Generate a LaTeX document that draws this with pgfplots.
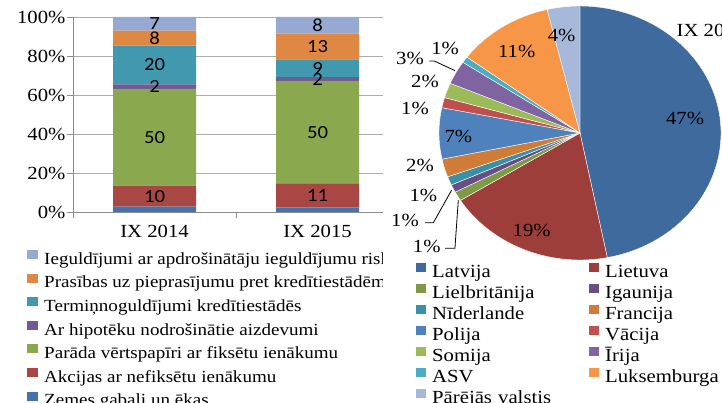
\documentclass[border=0pt]{standalone}
\usepackage{pgfplots}
\pgfplotsset{compat=1.18}
\usepackage{fontspec}
\setmainfont[FakeStretch=1.12]{Liberation Serif}
\newfontfamily\calib[FakeStretch=1.12]{Carlito}
\newcommand\fs{\fontsize{18.5}{20}\selectfont}
\newcommand\fsl{\fontsize{17}{20}\selectfont}

% bar colours
\definecolor{bZem}{HTML}{4472AC}
\definecolor{bAkc}{HTML}{A94745}
\definecolor{bPar}{HTML}{8AA84D}
\definecolor{bHip}{HTML}{6F5A96}
\definecolor{bTer}{HTML}{4199B0}
\definecolor{bPra}{HTML}{DF8843}
\definecolor{bIeg}{HTML}{95A9D3}
% pie colours
\definecolor{pLatv}{HTML}{3F6A9E}
\definecolor{pLiet}{HTML}{9E3E3B}
\definecolor{pLiel}{HTML}{7D9A47}
\definecolor{pIga}{HTML}{674F86}
\definecolor{pNid}{HTML}{3A90A6}
\definecolor{pFra}{HTML}{D07B36}
\definecolor{pPol}{HTML}{4F81BD}
\definecolor{pVac}{HTML}{C0504D}
\definecolor{pSom}{HTML}{9BBB59}
\definecolor{pIri}{HTML}{8064A2}
\definecolor{pASV}{HTML}{4BACC6}
\definecolor{pLuk}{HTML}{F79646}
\definecolor{pPar}{HTML}{A7B9DA}

\pgfplotsset{
  sq/.style={legend image code/.code={\fill[##1,draw=none] (0pt,1pt) rectangle (#1,10pt);}},
  slice/.style={draw=white, line width=0.4pt, samples=60},
}

\begin{document}
\begin{tikzpicture}[font=\fs]
\useasboundingbox (0,0) rectangle (722pt,403pt);

% stacked 100% bars
\begin{axis}[
  at={(73pt,191pt)}, anchor=south west,
  scale only axis, width=326pt, height=195pt,
  ybar stacked, bar width=83pt,
  xmin=-0.5, xmax=1.5, ymin=0, ymax=100,
  axis x line*=bottom, axis y line*=left,
  axis line style={draw=gray!90, line width=0.6pt},
  xtick={-0.5,0.5,1.5}, x tick label as interval,
  xticklabels={IX 2014,IX 2015},
  xticklabel style={yshift=-4pt},
  ytick={0,20,...,100}, yticklabel={\pgfmathprintnumber{\tick}\%},
  yticklabel style={xshift=2pt},
  /pgf/number format/assume math mode=true,
  tick label style={font=\fs},
  ymajorgrids, grid style={gray!65, line width=0.6pt},
  tick align=outside, major tick length=6pt,
  tick style={draw=gray!90, line width=0.6pt},
  legend style={draw=none, fill=none, at={(-0.141,-0.185)}, anchor=north west,
    inner sep=0pt, row sep=0pt, font=\fsl,
    nodes={inner sep=2pt, text height=14pt, text depth=5.6pt},
    /tikz/every odd column/.style={column sep=4pt}},
  legend cell align=left, reverse legend, sq=11pt,
]
\addplot[fill=bZem, draw=none] coordinates {(0,2.7) (1,2.4)};
\addplot[fill=bAkc, draw=none] coordinates {(0,10.8) (1,12.0)};
\addplot[fill=bPar, draw=none] coordinates {(0,49.6) (1,52.8)};
\addplot[fill=bHip, draw=none] coordinates {(0,2.4) (1,1.9)};
\addplot[fill=bTer, draw=none] coordinates {(0,19.8) (1,9.2)};
\addplot[fill=bPra, draw=none] coordinates {(0,7.7) (1,13.3)};
\addplot[fill=bIeg, draw=none] coordinates {(0,7.0) (1,8.4)};
\legend{Zemes gabali un ēkas, Akcijas ar nefiksētu ienākumu,
  Parāda vērtspapīri ar fiksētu ienākumu, Ar hipotēku nodrošinātie aizdevumi,
  Termiņnoguldījumi kredītiestādēs, Prasības uz pieprasījumu pret kredītiestādēm,
  Ieguldījumi ar apdrošinātāju ieguldījumu riska}
\end{axis}

% segment labels
\begin{axis}[
  at={(73pt,191pt)}, anchor=south west,
  scale only axis, width=326pt, height=195pt,
  xmin=-0.5, xmax=1.5, ymin=0, ymax=100, hide axis,
  nodes near coords, point meta=explicit symbolic,
  nodes near coords align={center},
  every node near coord/.append style={anchor=center, font=\calib\fs, text=black, inner sep=0pt},
]
\addplot[draw=none, mark=none] table[meta=lab] {
x y lab
0 8.1 10
0 38.3 50
0 64.3 2
0 75.4 20
0 89.2 8
0 96.5 7
1 8.4 11
1 40.8 50
1 68.1 2
1 73.7 9
1 85.0 13
1 95.8 8
};
\end{axis}

\fill[white] (383pt,0pt) rectangle (722pt,403pt);

% pie
\begin{axis}[
  at={(439pt,143pt)}, anchor=south west,
  scale only axis, width=282pt, height=254pt,
  xmin=-1, xmax=1, ymin=-1, ymax=1, hide axis, clip=false,
  legend columns=2, sq=10pt,
  legend style={draw=none, fill=none, at={(-0.0816,-0.010)}, anchor=north west,
    inner sep=0pt, row sep=0pt, font=\fs,
    nodes={inner sep=2pt, text height=13pt, text depth=4pt, text width=155pt, align=left},
    /tikz/every odd column/.style={column sep=4pt}},
  legend cell align=left,
]
\addplot[fill=pLatv, slice, domain=0:46.9]    ({cos(90-3.6*x)},{sin(90-3.6*x)}) -- (axis cs:0,0) -- cycle;
\addplot[fill=pLiet, slice, domain=46.9:66.1] ({cos(90-3.6*x)},{sin(90-3.6*x)}) -- (axis cs:0,0) -- cycle;
\addplot[fill=pLiel, slice, domain=66.1:67.3] ({cos(90-3.6*x)},{sin(90-3.6*x)}) -- (axis cs:0,0) -- cycle;
\addplot[fill=pIga,  slice, domain=67.3:68.3] ({cos(90-3.6*x)},{sin(90-3.6*x)}) -- (axis cs:0,0) -- cycle;
\addplot[fill=pNid,  slice, domain=68.3:69.4] ({cos(90-3.6*x)},{sin(90-3.6*x)}) -- (axis cs:0,0) -- cycle;
\addplot[fill=pFra,  slice, domain=69.4:71.7] ({cos(90-3.6*x)},{sin(90-3.6*x)}) -- (axis cs:0,0) -- cycle;
\addplot[fill=pPol,  slice, domain=71.7:78.2] ({cos(90-3.6*x)},{sin(90-3.6*x)}) -- (axis cs:0,0) -- cycle;
\addplot[fill=pVac,  slice, domain=78.2:79.5] ({cos(90-3.6*x)},{sin(90-3.6*x)}) -- (axis cs:0,0) -- cycle;
\addplot[fill=pSom,  slice, domain=79.5:81.4] ({cos(90-3.6*x)},{sin(90-3.6*x)}) -- (axis cs:0,0) -- cycle;
\addplot[fill=pIri,  slice, domain=81.4:84.4] ({cos(90-3.6*x)},{sin(90-3.6*x)}) -- (axis cs:0,0) -- cycle;
\addplot[fill=pASV,  slice, domain=84.4:85.2] ({cos(90-3.6*x)},{sin(90-3.6*x)}) -- (axis cs:0,0) -- cycle;
\addplot[fill=pLuk,  slice, domain=85.2:96.25] ({cos(90-3.6*x)},{sin(90-3.6*x)}) -- (axis cs:0,0) -- cycle;
\addplot[fill=pPar,  slice, domain=96.25:100] ({cos(90-3.6*x)},{sin(90-3.6*x)}) -- (axis cs:0,0) -- cycle;
\legend{Latvija, Lietuva, Lielbritānija, Igaunija, Nīderlande, Francija, Polija,
  Vācija, Somija, Īrija, ASV, Luksemburga, Pārējās valstis}

\node at (axis cs:0.745,0.116) {47\%};
\node at (axis cs:-0.343,-0.764) {19\%};
\node at (axis cs:-0.449,0.640) {11\%};
\node at (axis cs:-0.130,0.764) {4\%};
\node at (axis cs:-0.863,-0.029) {7\%};
\node at (axis cs:-0.957,0.667) {1\%};
\node at (axis cs:-1.206,0.583) {3\%};
\node at (axis cs:-1.099,0.404) {2\%};
\node at (axis cs:-1.170,0.194) {1\%};
\node at (axis cs:-1.135,-0.252) {2\%};
\node at (axis cs:-1.111,-0.488) {1\%};
\node at (axis cs:-1.241,-0.685) {1\%};
\node at (axis cs:-1.087,-0.895) {1\%};
\node[anchor=west] at (axis cs:0.660,0.811) {IX 2015};
\draw[line width=0.8pt] (axis cs:-1.069,0.567) -- (axis cs:-1.034,0.567) -- (axis cs:-0.887,0.491);
\draw[line width=0.8pt] (axis cs:-1.099,-0.706) -- (axis cs:-1.040,-0.706) -- (axis cs:-0.910,-0.449);
\draw[line width=0.8pt] (axis cs:-0.957,-0.908) -- (axis cs:-0.887,-0.908) -- (axis cs:-0.863,-0.528);
\end{axis}
\end{tikzpicture}
\end{document}
